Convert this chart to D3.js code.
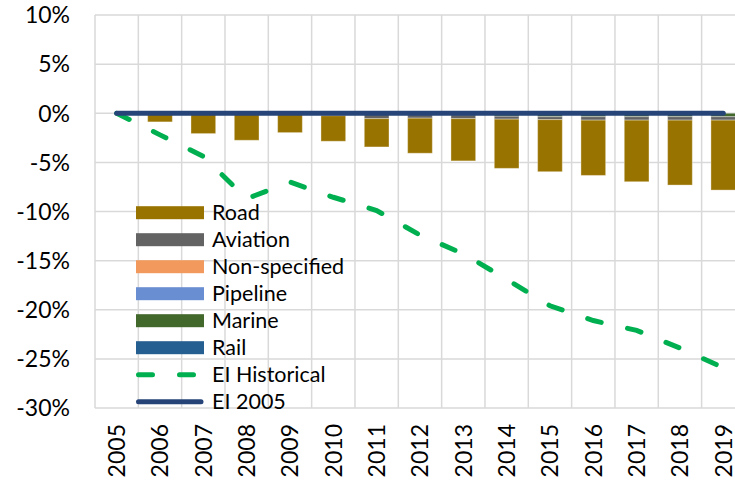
<!DOCTYPE html>
<html>
<head>
<meta charset="utf-8">
<script src="https://cdn.jsdelivr.net/npm/d3@7"></script>
<style>
  body { margin: 0; background: #fff; }
  svg { display: block; font-family: Lato, "Open Sans", sans-serif; }
</style>
</head>
<body>
<div id="chart"></div>
<script>
// data (% change vs 2005)
var years = ["2005","2006","2007","2008","2009","2010","2011","2012","2013","2014","2015","2016","2017","2018","2019"];
var road = [0, -0.88, -2.07, -2.75, -1.97, -2.6, -2.88, -3.57, -4.3, -5.01, -5.3, -5.63, -6.27, -6.61, -7.12];
var aviation = [0, 0, 0, 0, 0, -0.25, -0.5, -0.4, -0.4, -0.3, -0.3, -0.35, -0.35, -0.35, -0.35];
var nonSpecified = [0, 0, 0, 0, 0, 0, 0, 0, 0, 0, 0, 0, 0, 0, 0];
var pipeline = [0, 0, 0, 0, 0, 0, 0, 0, 0, 0, 0, 0, 0, 0, 0];
var marine = [0, 0, 0, 0, 0, 0, -0.05, -0.1, -0.15, -0.3, -0.35, -0.35, -0.35, -0.35, -0.35];
var rail = [0, 0, 0, 0, 0, 0, 0, 0, 0, 0, 0, 0, 0, 0, 0];
var eiHistorical = [0, -2.2, -4.4, -8.7, -7.0, -8.55, -9.9, -12.4, -14.3, -16.9, -19.6, -21.1, -22.1, -23.9, -25.9];
var ei2005 = [0, 0, 0, 0, 0, 0, 0, 0, 0, 0, 0, 0, 0, 0, 0];
var yTicks = [10, 5, 0, -5, -10, -15, -20, -25, -30];

var seriesNames = ["Road", "Aviation", "Non-specified", "Pipeline", "Marine", "Rail"];
var seriesValues = [road, aviation, nonSpecified, pipeline, marine, rail];
var seriesColors = ["#997300", "#636363", "#f29a5e", "#6a8ed2", "#43682b", "#255e91"];

var width = 735, height = 483;
var plotLeft = 95, plotTop = 15, plotBottom = 408;
var step = 43.33;

var svg = d3.select("#chart").append("svg")
    .attr("width", width)
    .attr("height", height);

var x = d3.scaleBand()
    .domain(years)
    .range([plotLeft, plotLeft + step * years.length])
    .paddingInner(0.43)
    .paddingOuter(0.215);

var y = d3.scaleLinear()
    .domain([-30, 10])
    .range([plotBottom, plotTop]);

// gridlines
svg.append("g").selectAll("line")
    .data(yTicks)
    .enter().append("line")
    .attr("x1", plotLeft).attr("x2", plotLeft + step * years.length)
    .attr("y1", function(d) { return y(d); })
    .attr("y2", function(d) { return y(d); })
    .attr("stroke", "#d9d9d9").attr("stroke-width", 1.5);

svg.append("g").selectAll("line")
    .data(years)
    .enter().append("line")
    .attr("x1", function(d) { return x(d) - x.step() * 0.215; })
    .attr("x2", function(d) { return x(d) - x.step() * 0.215; })
    .attr("y1", plotTop).attr("y2", plotBottom)
    .attr("stroke", "#d9d9d9").attr("stroke-width", 1.5);

// y labels
svg.append("g").selectAll("text")
    .data(yTicks)
    .enter().append("text")
    .attr("x", 70)
    .attr("y", function(d) { return y(d); })
    .attr("dy", "0.36em")
    .attr("text-anchor", "end")
    .attr("font-size", 23)
    .attr("fill", "#000")
    .text(function(d) { return d + "%"; });

// x labels
svg.append("g").selectAll("text")
    .data(years)
    .enter().append("text")
    .attr("transform", function(d) {
        return "translate(" + (x(d) + x.bandwidth() / 2) + ",424) rotate(-90)";
    })
    .attr("dy", "0.36em")
    .attr("text-anchor", "end")
    .attr("font-size", 23)
    .attr("fill", "#000")
    .text(function(d) { return d; });

// stacked bars
var table = years.map(function(yr, i) {
    var row = { year: yr };
    seriesNames.forEach(function(n, j) { row[n] = seriesValues[j][i]; });
    return row;
});
var stackOrder = ["Rail", "Marine", "Pipeline", "Non-specified", "Aviation", "Road"];
var stacked = d3.stack().keys(stackOrder).offset(d3.stackOffsetDiverging)(table);

svg.append("g").selectAll("g")
    .data(stacked)
    .enter().append("g")
    .attr("fill", function(d) { return seriesColors[seriesNames.indexOf(d.key)]; })
    .selectAll("rect")
    .data(function(d) { return d; })
    .enter().append("rect")
    .attr("x", function(d) { return x(d.data.year); })
    .attr("width", x.bandwidth())
    .attr("y", function(d) { return y(Math.max(d[0], d[1])); })
    .attr("height", function(d) { return Math.abs(y(d[0]) - y(d[1])); })
    .attr("stroke", "#fff").attr("stroke-opacity", 0.35).attr("stroke-width", 1);

var line = d3.line()
    .x(function(d, i) { return x(years[i]) + x.bandwidth() / 2; })
    .y(function(d) { return y(d); });

svg.append("path")
    .datum(eiHistorical)
    .attr("d", line)
    .attr("fill", "none")
    .attr("stroke", "#00b050")
    .attr("stroke-width", 5)
    .attr("stroke-linecap", "round")
    .attr("stroke-dasharray", "14 27");

svg.append("path")
    .datum(ei2005)
    .attr("d", line)
    .attr("fill", "none")
    .attr("stroke", "#264478")
    .attr("stroke-width", 5)
    .attr("stroke-linecap", "round");

// legend
var legend = svg.append("g");
var rowH = 27, legY = 212.7;
seriesNames.forEach(function(n, i) {
    legend.append("rect")
        .attr("x", 136).attr("y", legY + i * rowH - 6.5)
        .attr("width", 68).attr("height", 13)
        .attr("fill", seriesColors[i]);
});
legend.append("line")
    .attr("x1", 138.5).attr("x2", 200).attr("y1", legY + 6 * rowH).attr("y2", legY + 6 * rowH)
    .attr("stroke", "#00b050").attr("stroke-width", 5)
    .attr("stroke-linecap", "round").attr("stroke-dasharray", "14 27");
legend.append("line")
    .attr("x1", 138.5).attr("x2", 201).attr("y1", legY + 7 * rowH).attr("y2", legY + 7 * rowH)
    .attr("stroke", "#264478").attr("stroke-width", 5)
    .attr("stroke-linecap", "round");

var legendLabels = seriesNames.concat(["EI Historical", "EI 2005"]);
legend.selectAll("text")
    .data(legendLabels)
    .enter().append("text")
    .attr("x", 212)
    .attr("y", function(d, i) { return legY + i * rowH; })
    .attr("dy", "0.36em")
    .attr("font-size", 21.5)
    .attr("fill", "#000")
    .text(function(d) { return d; });
</script>
</body>
</html>
